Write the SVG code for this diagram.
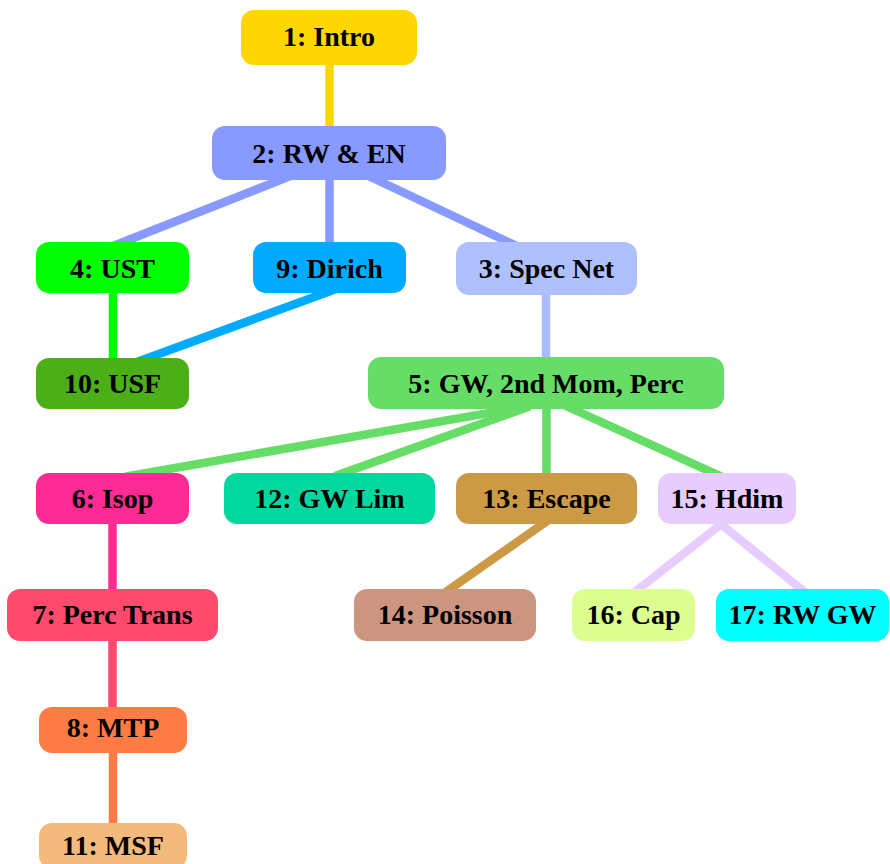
<svg xmlns="http://www.w3.org/2000/svg" width="890" height="864" viewBox="0 0 890 864">
<style>
.e{fill:none;stroke-width:8.5;stroke-linecap:butt}
.n rect{rx:13px;ry:13px}
.n text{font-family:"Liberation Serif","Times New Roman",serif;font-weight:bold;font-size:28px;text-anchor:middle;fill:#000}
</style>
<rect width="890" height="864" fill="#fff"/>
<g id="connectors">
<line class="e" stroke="#FFD700" x1="329.5" y1="60" x2="329.5" y2="130"/>
<line class="e" stroke="#8899FF" x1="303" y1="171" x2="108" y2="248"/>
<line class="e" stroke="#8899FF" x1="329.5" y1="175" x2="329.5" y2="248"/>
<line class="e" stroke="#8899FF" x1="358" y1="171" x2="523" y2="249"/>
<line class="e" stroke="#00FF00" x1="113" y1="288" x2="113" y2="363"/>
<line class="e" stroke="#00AAFF" x1="343" y1="286.5" x2="130" y2="364.5"/>
<line class="e" stroke="#AABBFF" x1="546" y1="290" x2="546" y2="362"/>
<line class="e" stroke="#66DD66" x1="525" y1="406.6" x2="125" y2="476.7"/>
<line class="e" stroke="#66DD66" x1="530" y1="406.3" x2="335" y2="475.9"/>
<line class="e" stroke="#66DD66" x1="546.5" y1="404" x2="546.5" y2="478"/>
<line class="e" stroke="#66DD66" x1="555" y1="401" x2="727.5" y2="479.4"/>
<line class="e" stroke="#FF2A93" x1="112.5" y1="520" x2="112.5" y2="594"/>
<line class="e" stroke="#FF4A6E" x1="112.5" y1="636" x2="112.5" y2="712"/>
<line class="e" stroke="#FF7B44" x1="113" y1="748" x2="113" y2="828"/>
<line class="e" stroke="#CC9944" x1="550.4" y1="518.8" x2="442.6" y2="594.2"/>
<line class="e" stroke="#E6CCFF" x1="726.4" y1="520" x2="633.6" y2="593"/>
<line class="e" stroke="#E6CCFF" x1="715.8" y1="520" x2="806" y2="593"/>
</g>
<g id="n1" class="n"><rect x="241" y="10" width="176" height="55" fill="#FFD700"/><text x="329" y="46">1: Intro</text></g>
<g id="n2" class="n"><rect x="212" y="126" width="234" height="54" fill="#8899FF"/><text x="329" y="162.5">2: RW &amp; EN</text></g>
<g id="n4" class="n"><rect x="36" y="242" width="153" height="51" fill="#00FF00"/><text x="112.5" y="278">4: UST</text></g>
<g id="n9" class="n"><rect x="253" y="242" width="153" height="51" fill="#00AAFF"/><text x="329.5" y="278">9: Dirich</text></g>
<g id="n3" class="n"><rect x="456" y="242" width="181" height="53" fill="#AFC0FF"/><text x="546.5" y="278">3: Spec Net</text></g>
<g id="n10" class="n"><rect x="36" y="358" width="153" height="51" fill="#4DAF18"/><text x="112.5" y="393">10: USF</text></g>
<g id="n5" class="n"><rect x="368" y="357" width="356" height="52" fill="#66DD66"/><text x="546" y="393">5: GW, 2nd Mom, Perc</text></g>
<g id="n6" class="n"><rect x="36" y="473" width="153" height="51" fill="#FF2A93"/><text x="112.5" y="508">6: Isop</text></g>
<g id="n12" class="n"><rect x="224" y="473" width="211" height="51" fill="#00D8A0"/><text x="329.5" y="508">12: GW Lim</text></g>
<g id="n13" class="n"><rect x="456" y="473" width="181" height="51" fill="#CC9944"/><text x="546.5" y="508">13: Escape</text></g>
<g id="n15" class="n"><rect x="658" y="473" width="138" height="51" fill="#E6CCFF"/><text x="727" y="508">15: Hdim</text></g>
<g id="n7" class="n"><rect x="7" y="589" width="211" height="52" fill="#FF4A6E"/><text x="112.5" y="624">7: Perc Trans</text></g>
<g id="n14" class="n"><rect x="354" y="589" width="182" height="52" fill="#CC9580"/><text x="445" y="624">14: Poisson</text></g>
<g id="n16" class="n"><rect x="572" y="589" width="123" height="52" fill="#DDFF90"/><text x="633.5" y="624">16: Cap</text></g>
<g id="n17" class="n"><rect x="716" y="589" width="173" height="52" fill="#00FFFF"/><text x="802.5" y="624">17: RW GW</text></g>
<g id="n8" class="n"><rect x="39" y="707" width="148" height="46" fill="#FF7B44"/><text x="113" y="737">8: MTP</text></g>
<g id="n11" class="n"><rect x="39" y="823" width="148" height="46" fill="#F4BA7D"/><text x="113" y="855">11: MSF</text></g>
</svg>
